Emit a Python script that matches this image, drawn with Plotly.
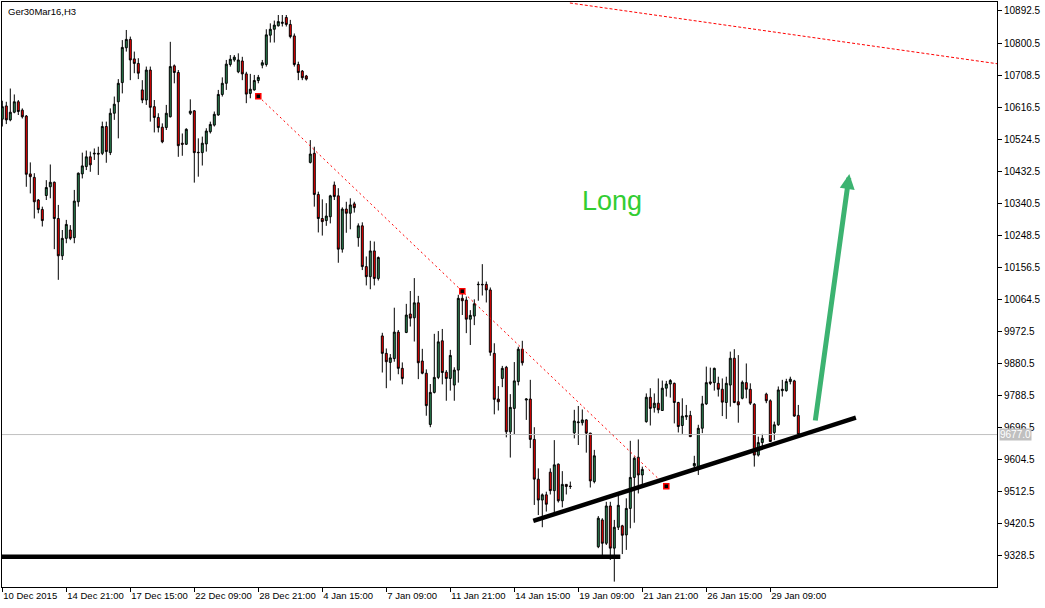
import plotly.graph_objects as go

# ---------------- data ----------------
open_ = [10582,10620,10580,10602,10632,10608,10591,10425,10415,10350,
         10323,10363,10388,10401,10297,10190,10240,10264,10242,10345,
         10425,10446,10474,10482,10484,10484,10561,10486,10599,10632,
         10687,10787,10811,10755,10742,10666,10637,10723,10618,10587,
         10559,10558,10589,10735,10716,10513,10510,10599,10606,10487,
         10486,10511,10546,10565,10594,10653,10685,10739,10752,10718,
         10749,10712,10656,10666,10693,10737,10739,10823,10840,10850,
         10857,10874,10854,10821,10739,10720,10706,10458,10484,10366,
         10297,10291,10302,10393,10362,10209,10324,10312,10339,10242,
         10276,10159,10130,10204,10125,9960,9910,9884,9895,9971,
         9867,9970,10023,10012,10055,9888,9853,9706,9798,9841,
         9946,9856,9838,9819,9862,10068,10063,10008,10017,10107,
         10108,10108,10092,9910,9779,9838,9870,9685,9752,9829,
         9922,9776,9779,9663,9549,9489,9504,9569,9516,9592,
         9487,9534,9529,9682,9711,9711,9719,9681,9542,9355,
         9432,9365,9472,9351,9411,9415,9389,9465,9554,9612,
         9561,9714,9784,9754,9767,9746,9810,9822,9824,9769,
         9703,9728,9732,9587,9585,9695,9765,9828,9826,9824,
         9807,9769,9819,9896,9771,9781,9826,9807,9764,9618,
         9654,9793,9774,9683,9705,9803,9803,9829,9831,9732]
high = [10635,10632,10670,10653,10637,10613,10594,10458,10427,10353,
        10331,10407,10452,10403,10336,10264,10293,10278,10379,10429,
        10486,10492,10489,10498,10503,10575,10575,10613,10647,10697,
        10809,10838,10819,10776,10757,10694,10733,10733,10637,10599,
        10570,10623,10804,10739,10723,10541,10556,10639,10608,10527,
        10532,10556,10575,10604,10666,10702,10752,10766,10766,10771,
        10761,10718,10712,10709,10709,10752,10840,10857,10865,10881,
        10881,10881,10867,10828,10747,10723,10709,10522,10503,10374,
        10352,10341,10365,10403,10384,10329,10345,10355,10345,10283,
        10286,10188,10233,10231,10188,9969,9924,9908,10041,9977,
        9884,10052,10089,10126,10075,9923,9864,9822,9966,9974,
        9980,9862,9920,9870,10078,10082,10073,10034,10065,10116,
        10166,10116,10099,9939,9816,9874,9874,9793,9885,9929,
        9946,9781,9834,9698,9580,9508,9513,9580,9661,9594,
        9572,9535,9542,9748,9759,9749,9721,9682,9633,9443,
        9437,9484,9484,9432,9504,9418,9494,9659,9614,9663,
        9585,9795,9810,9795,9838,9832,9831,9836,9826,9771,
        9781,9762,9745,9616,9705,9788,9872,9869,9869,9843,
        9838,9843,9915,9922,9905,9832,9881,9824,9767,9671,
        9679,9797,9778,9714,9815,9834,9837,9843,9834,9762]
low = [10561,10568,10576,10599,10594,10584,10388,10369,10297,10312,
       10274,10350,10355,10209,10121,10178,10226,10235,10226,10331,
       10412,10436,10431,10465,10422,10479,10457,10479,10580,10527,
       10656,10776,10694,10714,10697,10628,10623,10575,10544,10544,
       10513,10551,10587,10685,10474,10477,10508,10594,10400,10417,
       10449,10489,10541,10561,10592,10647,10666,10733,10747,10714,
       10694,10628,10642,10664,10685,10728,10733,10802,10802,10848,
       10848,10848,10814,10733,10694,10694,10693,10455,10331,10257,
       10248,10276,10283,10350,10170,10199,10256,10266,10314,10216,
       10149,10105,10094,10105,10119,9855,9810,9832,9886,9850,
       9821,9968,9987,9944,9836,9850,9731,9698,9795,9836,
       9821,9774,9803,9774,9826,10020,9968,9934,9991,10061,
       10076,10056,9903,9735,9746,9813,9669,9611,9678,9818,
       9875,9719,9638,9475,9446,9411,9456,9505,9453,9482,
       9468,9505,9521,9666,9647,9703,9625,9525,9537,9351,
       9331,9360,9317,9255,9403,9334,9346,9408,9424,9508,
       9532,9711,9703,9740,9738,9745,9786,9783,9709,9683,
       9679,9719,9671,9575,9561,9681,9762,9819,9803,9786,
       9730,9722,9757,9767,9711,9778,9781,9762,9585,9614,
       9642,9767,9657,9661,9702,9786,9800,9821,9728,9676]
close = [10618,10580,10602,10632,10604,10589,10424,10417,10345,10323,
         10291,10386,10401,10297,10190,10240,10280,10240,10347,10427,
         10448,10474,10451,10484,10482,10561,10489,10599,10625,10685,
         10788,10811,10752,10742,10714,10637,10723,10616,10587,10558,
         10517,10599,10733,10716,10506,10510,10553,10605,10486,10486,
         10513,10548,10567,10596,10653,10685,10740,10754,10760,10752,
         10712,10654,10668,10693,10702,10744,10824,10840,10852,10862,
         10860,10854,10819,10739,10716,10701,10697,10482,10366,10297,
         10288,10304,10362,10360,10209,10324,10312,10336,10328,10276,
         10159,10130,10204,10125,10185,9910,9886,9897,9971,9867,
         9838,10020,10011,10055,9883,9853,9760,9798,9841,9943,
         9855,9838,9904,9862,10068,10061,10008,10019,10052,10108,
         10107,10092,9913,9778,9771,9867,9685,9755,9831,9922,
         9883,9779,9663,9549,9489,9504,9477,9516,9590,9487,
         9534,9528,9528,9716,9713,9719,9681,9544,9616,9437,
         9365,9472,9351,9411,9474,9388,9465,9554,9609,9561,
         9577,9784,9752,9767,9748,9810,9822,9832,9769,9700,
         9730,9731,9671,9594,9695,9765,9826,9824,9867,9807,
         9770,9824,9896,9769,9762,9827,9807,9767,9618,9654,
         9666,9774,9657,9705,9805,9807,9829,9836,9730,9677]

bar_index = list(range(len(close)))

tick_positions = [0, 16, 32, 48, 64, 80, 96, 112, 128, 144, 160, 176, 192]
tick_labels = ["10 Dec 2015", "14 Dec 21:00", "17 Dec 15:00", "22 Dec 09:00",
               "28 Dec 21:00", "4 Jan 15:00", "7 Jan 09:00", "11 Jan 21:00",
               "14 Jan 15:00", "19 Jan 09:00", "21 Jan 21:00", "26 Jan 15:00",
               "29 Jan 09:00"]
price_ticks = [9328.5, 9420.5, 9512.5, 9604.5, 9696.5, 9788.5, 9880.5, 9972.5,
               10064.5, 10156.5, 10248.5, 10340.5, 10432.5, 10524.5, 10616.5,
               10708.5, 10800.5, 10892.5]
price_tick_text = [f"{v:.1f}" for v in price_ticks]

last_price = 9677.0

# drawn objects (anchor points: bar index, price)
support_x = [-5, 154.5]
support_y = [9326, 9326]
uptrend_x = [132.75, 213.4]
uptrend_y = [9429, 9725.4]
down_trend_x = [64, 115, 166]
down_trend_y = [10647.7, 10088, 9528.5]
upper_trend_x = [141.9, 249.0]
upper_trend_y = [10915.5, 10740.7]
arrow_tail = (203.2, 9713)
arrow_tip = (211.75, 10424.7)
long_label_pos = (152.35, 10347)

x_range = [-0.075, 248.675]
y_range = [9239.5, 10918.3]

FONT = "Liberation Sans, Arial, sans-serif"

fig = go.Figure()

# current price line
fig.add_trace(go.Scatter(x=x_range, y=[last_price, last_price], mode="lines",
                         line=dict(color="#c0c0c0", width=1), hoverinfo="skip",
                         showlegend=False))

fig.add_trace(go.Candlestick(
    x=bar_index, open=open_, high=high, low=low, close=close,
    increasing=dict(line=dict(color="black", width=1), fillcolor="#2e8b57"),
    decreasing=dict(line=dict(color="black", width=1), fillcolor="#ff0000"),
    whiskerwidth=0, showlegend=False, hoverinfo="skip"))

# red dotted trend lines
fig.add_trace(go.Scatter(x=[down_trend_x[0], down_trend_x[-1]],
                         y=[down_trend_y[0], down_trend_y[-1]], mode="lines",
                         line=dict(color="#ff0000", width=1, dash="2px,3px"),
                         hoverinfo="skip", showlegend=False))
fig.add_trace(go.Scatter(x=upper_trend_x, y=upper_trend_y, mode="lines",
                         line=dict(color="#ff0000", width=1, dash="3px,2px"),
                         hoverinfo="skip", showlegend=False))
fig.add_trace(go.Scatter(x=down_trend_x, y=down_trend_y, mode="markers",
                         marker=dict(symbol="square", size=5, color="black",
                                     line=dict(color="#ff0000", width=1.5)),
                         hoverinfo="skip", showlegend=False))

# thick black lines
fig.add_trace(go.Scatter(x=support_x, y=support_y, mode="lines",
                         line=dict(color="black", width=4.5),
                         hoverinfo="skip", showlegend=False))
fig.add_trace(go.Scatter(x=uptrend_x, y=uptrend_y, mode="lines",
                         line=dict(color="black", width=4.5),
                         hoverinfo="skip", showlegend=False))

annotations = [
    dict(x=arrow_tip[0], y=arrow_tip[1], ax=arrow_tail[0], ay=arrow_tail[1],
         xref="x", yref="y", axref="x", ayref="y", text="", showarrow=True,
         arrowhead=2, arrowsize=0.6, arrowwidth=5, arrowcolor="#3cb371",
         standoff=0),
    dict(x=long_label_pos[0], y=long_label_pos[1], xref="x", yref="y",
         text="Long", showarrow=False, xanchor="center", yanchor="middle",
         font=dict(family=FONT, size=27, color="#32cd32")),
    dict(x=0, y=1, xref="paper", yref="paper", text="Ger30Mar16,H3",
         showarrow=False, xanchor="left", yanchor="top", xshift=4, yshift=-2,
         font=dict(family=FONT, size=9.5, color="black")),
    dict(x=1, y=last_price, xref="paper", yref="y", text=f"{last_price:.1f}",
         showarrow=False, xanchor="left", yanchor="middle", xshift=2,
         bgcolor="#c0c0c0", borderpad=0,
         font=dict(family=FONT, size=10, color="white")),
]

fig.update_layout(
    width=1045, height=608,
    margin=dict(l=2, r=48, t=2, b=21, pad=0, autoexpand=False),
    paper_bgcolor="white", plot_bgcolor="white",
    showlegend=False,
    annotations=annotations,
    xaxis=dict(range=x_range, showgrid=False, zeroline=False, automargin=False,
               showline=True, linecolor="black", linewidth=1, mirror=True,
               ticks="outside", ticklen=4, tickcolor="black", tickwidth=1,
               tickvals=tick_positions, ticktext=tick_labels, tickangle=0,
               ticklabelposition="outside right",
               tickfont=dict(family=FONT, size=9.5, color="black"),
               rangeslider=dict(visible=False), fixedrange=True),
    yaxis=dict(range=y_range, side="right", showgrid=False, zeroline=False,
               automargin=False,
               showline=True, linecolor="black", linewidth=1, mirror=True,
               ticks="outside", ticklen=4, tickcolor="black", tickwidth=1,
               tickvals=price_ticks, ticktext=price_tick_text,
               tickfont=dict(family=FONT, size=10, color="black"),
               fixedrange=True),
)

fig.write_html("out.html", config=dict(displayModeBar=False, staticPlot=True),
               post_script="document.body.style.margin='0px';"
                           "document.body.style.overflow='hidden';")
